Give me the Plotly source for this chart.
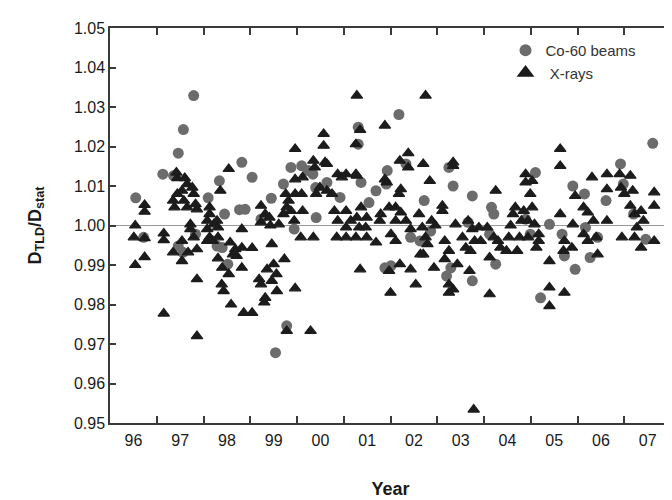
import plotly.graph_objects as go

# Co-60 beams (circles): decimal year, D_TLD/D_stat
co_year = [1996.55, 1996.72, 1997.13, 1997.36, 1997.46, 1997.57, 1997.79, 1997.46, 1997.56, 1997.83,
           1998.10, 1998.34, 1998.45, 1998.29, 1998.40, 1998.52, 1998.82, 1998.77, 1998.89, 1999.04,
           1999.23, 1999.45, 1999.54, 1999.78, 1999.71, 1999.94, 1999.87, 2000.10, 2000.24, 2000.34,
           2000.40, 2000.41, 2000.64, 2000.92, 2001.31, 2001.31, 2001.37, 2001.54, 2001.69, 2001.88,
           2002.01, 2001.93, 2001.91, 2002.18, 2002.33, 2002.43, 2002.72, 2002.63, 2002.86, 2003.25,
           2003.34, 2003.20, 2003.29, 2003.75, 2003.75, 2003.66, 2004.16, 2004.21, 2004.25, 2004.12,
           2005.10, 2004.89, 2004.99, 2005.21, 2005.40, 2005.67, 2005.72, 2005.90, 2005.95, 2006.15,
           2006.17, 2006.27, 2006.43, 2006.61, 2006.92, 2006.98, 2007.20, 2007.46, 2007.61]
co_ratio = [1.0070, 0.9970, 1.0130, 1.0126, 1.0183, 1.0243, 1.0329, 0.9948, 0.9932, 0.9978,
            1.0070, 1.0113, 1.0029, 0.9948, 0.9944, 0.9902, 1.0160, 1.0040, 1.0041, 1.0122,
            1.0016, 1.0069, 0.9678, 0.9746, 1.0105, 0.9991, 1.0147, 1.0151, 1.0139, 1.0130,
            1.0096, 1.0020, 1.0109, 1.0071, 1.0206, 1.0249, 1.0109, 1.0058, 1.0088, 0.9893,
            0.9898, 1.0139, 1.0105, 1.0281, 1.0156, 0.9970, 1.0063, 0.9961, 0.9986, 1.0147,
            1.0100, 0.9872, 0.9893, 1.0075, 0.9860, 1.0008, 1.0046, 1.0029, 0.9902, 0.9978,
            1.0134, 1.0016, 0.9978, 0.9817, 1.0003, 0.9978, 0.9923, 1.0100, 0.9889, 1.0080,
            0.9995, 0.9919, 0.9970, 1.0063, 1.0156, 1.0105, 1.0029, 0.9965, 1.0208]

# X-rays (triangles): decimal year, D_TLD/D_stat
xr_year = [1996.54, 1996.51, 1996.54, 1996.74, 1996.74, 1996.74, 1996.74,
           1997.15, 1997.15, 1997.15, 1997.42, 1997.44, 1997.35, 1997.38, 1997.44, 1997.54, 1997.58,
           1997.60, 1997.65, 1997.76, 1997.79, 1997.83, 1997.86, 1997.65, 1997.72, 1997.72, 1997.79,
           1997.86, 1997.86, 1997.86, 1997.35, 1997.54, 1997.54, 1997.67,
           1998.13, 1998.13, 1998.08, 1998.08, 1998.13, 1998.22, 1998.29, 1998.31, 1998.20, 1998.31,
           1998.08, 1998.36, 1998.54, 1998.31, 1998.40, 1998.39, 1998.43, 1998.54, 1998.59, 1998.57,
           1998.68, 1998.71, 1998.63, 1998.82, 1998.82, 1998.82, 1998.86, 1999.04, 1999.04,
           1999.23, 1999.23, 1999.19, 1999.23, 1999.30, 1999.32, 1999.36, 1999.32, 1999.41, 1999.43,
           1999.46, 1999.50, 1999.46, 1999.61, 1999.73, 1999.56, 1999.57, 1999.78, 1999.76, 1999.82,
           1999.87, 1999.78, 1999.71, 1999.96, 1999.96, 1999.94, 1999.96, 1999.96,
           2000.12, 2000.10, 2000.12, 2000.08, 2000.29, 2000.35, 2000.38, 2000.41, 2000.49, 2000.57,
           2000.57, 2000.60, 2000.64, 2000.35, 2000.64, 2000.75, 2000.80, 2000.87, 2000.96, 2000.85,
           2000.87,
           2001.05, 2001.26, 2001.28, 2001.26, 2001.35, 2001.28, 2001.05, 2001.05, 2001.05, 2001.15,
           2001.28, 2001.33, 2001.26, 2001.35, 2001.47, 2001.49, 2001.37, 2001.49, 2001.69, 2001.77,
           2001.79, 2001.88, 2001.88, 2001.92, 2001.97, 2002.01, 2001.97, 2002.00,
           2002.38, 2002.20, 2002.22, 2002.18, 2002.38, 2002.11, 2002.11, 2002.11, 2002.22, 2002.33,
           2002.43, 2002.43, 2002.54, 2002.20, 2002.75, 2002.70, 2002.84, 2002.61, 2002.68, 2002.75,
           2002.70, 2002.79, 2002.88, 2002.93, 2002.64, 2002.96,
           2003.11, 2003.11, 2003.34, 2003.34, 2003.39, 2003.16, 2003.25, 2003.16, 2003.25, 2003.25,
           2003.34, 2003.43, 2003.54, 2003.61, 2003.66, 2003.75, 2003.80, 2003.71, 2003.69, 2003.78,
           2003.89, 2003.93, 2004.07, 2004.12, 2004.12, 2004.25, 2004.21, 2004.30, 2004.35,
           2004.48, 2004.53, 2004.57, 2004.62, 2004.67, 2004.71, 2004.76, 2004.80, 2004.85, 2004.89,
           2004.89, 2005.03, 2004.99, 2005.03, 2004.94, 2004.94, 2005.08, 2005.17, 2005.17, 2005.12,
           2005.40, 2005.40, 2005.40, 2005.63, 2005.63, 2005.63, 2005.72, 2005.70, 2005.72, 2005.95,
           2005.90, 2005.88,
           2006.13, 2006.22, 2006.13, 2006.22, 2006.31, 2006.34, 2006.40, 2006.43, 2006.63, 2006.63,
           2006.63, 2006.90, 2006.93, 2007.00, 2006.95,
           2007.13, 2007.18, 2007.13, 2007.22, 2007.27, 2007.22, 2007.36, 2007.41, 2007.36, 2007.64,
           2007.64, 2007.64]
xr_ratio = [1.0000, 0.9970, 0.9900, 1.0052, 1.0035, 0.9968, 0.9920,
            0.9980, 0.9963, 0.9777, 1.0134, 1.0120, 1.0063, 1.0046, 1.0080, 1.0088, 1.0063,
            1.0120, 1.0105, 1.0096, 1.0080, 1.0054, 1.0041, 1.0046, 1.0003, 0.9991, 0.9970,
            0.9940, 0.9864, 0.9720, 0.9932, 0.9910, 0.9961, 0.9932,
            1.0046, 1.0029, 1.0012, 0.9991, 0.9970, 1.0003, 1.0012, 0.9995, 0.9961, 0.9970,
            0.9961, 1.0088, 1.0143, 0.9917, 0.9893, 0.9851, 0.9834, 0.9877, 0.9800, 0.9957,
            0.9940, 0.9923, 0.9927, 0.9991, 0.9944, 0.9893, 0.9779, 0.9779, 0.9943,
            1.0050, 1.0008, 0.9864, 0.9851, 0.9805, 0.9817, 0.9889, 1.0029, 1.0020, 1.0000,
            0.9953, 0.9902, 0.9860, 1.0003, 0.9915, 0.9877, 0.9834, 0.9733, 1.0080, 1.0063,
            1.0037, 1.0046, 1.0029, 1.0194, 0.9841, 1.0012, 1.0117, 1.0080,
            1.0122, 1.0080, 1.0037, 0.9970, 0.9733, 1.0164, 1.0147, 1.0080, 1.0096, 1.0232,
            1.0202, 1.0160, 1.0156, 0.9970, 1.0088, 1.0080, 1.0037, 1.0130, 1.0122, 0.9970,
            1.0012,
            1.0130, 1.0130, 1.0329, 1.0206, 1.0242, 1.0126, 1.0037, 0.9995, 0.9970, 1.0012,
            1.0020, 0.9995, 0.9970, 0.9889, 0.9995, 0.9970, 1.0046, 1.0020, 0.9957, 1.0012,
            1.0029, 1.0253, 1.0117, 1.0109, 1.0046, 0.9978, 0.9885, 0.9830,
            1.0183, 1.0164, 1.0092, 1.0080, 1.0147, 1.0046, 1.0012, 0.9961, 1.0033, 1.0012,
            0.9991, 0.9889, 0.9851, 0.9902, 1.0329, 1.0156, 1.0113, 1.0029, 0.9995, 0.9970,
            0.9927, 0.9953, 1.0012, 0.9893, 0.9927, 1.0000,
            1.0050, 1.0037, 1.0160, 1.0151, 1.0003, 0.9961, 0.9936, 0.9915, 0.9851, 0.9830,
            0.9838, 0.9902, 0.9970, 0.9944, 1.0012, 0.9991, 0.9961, 0.9936, 0.9885, 0.9534,
            0.9995, 0.9961, 0.9995, 0.9919, 0.9826, 1.0088, 0.9970, 0.9961, 0.9944,
            0.9936, 0.9970, 1.0000, 1.0029, 1.0046, 0.9936, 0.9970, 1.0012, 1.0037, 1.0130,
            1.0109, 1.0113, 1.0080, 1.0046, 1.0012, 0.9970, 1.0003, 0.9978, 0.9961, 0.9944,
            0.9910, 0.9843, 0.9796, 1.0194, 1.0151, 1.0029, 0.9961, 0.9936, 0.9830, 1.0075,
            1.0003, 0.9944,
            1.0046, 1.0033, 0.9978, 0.9961, 1.0122, 1.0012, 0.9970, 0.9927, 1.0130, 1.0092,
            1.0012, 1.0130, 1.0096, 1.0080, 0.9970,
            1.0126, 1.0088, 1.0050, 1.0029, 0.9995, 0.9970, 0.9944, 1.0012, 1.0037, 1.0084,
            1.0050, 0.9961]

year_labels = ["96", "97", "98", "99", "00", "01", "02", "03", "04", "05", "06", "07"]
year_label_pos = [1996.5 + i for i in range(len(year_labels))]
year_bounds = [1997 + i for i in range(11)]
y_ticks = [0.95 + 0.01 * i for i in range(11)]

FONT = "Liberation Sans, Arial, sans-serif"
AXC = "#3a3a3a"
TXT = "#1a1a1a"

fig = go.Figure()
fig.add_trace(go.Scatter(
    x=co_year, y=co_ratio, mode="markers", name="Co-60 beams",
    marker=dict(symbol="circle", size=11, color="#6c6c6c", line=dict(width=0)),
))
fig.add_trace(go.Scatter(
    x=xr_year, y=xr_ratio, mode="markers", name=" X-rays",
    marker=dict(symbol="triangle-up", size=10, color="#1c1c1c",
                line=dict(width=1.2, color="#1c1c1c")),
))
# invisible helper trace so the label axis is drawn
fig.add_trace(go.Scatter(x=[1996, 2008], y=[1.0, 1.0], xaxis="x2", mode="markers",
                         marker=dict(opacity=0), showlegend=False, hoverinfo="skip"))

fig.add_shape(type="line", xref="paper", yref="y", x0=0, x1=1, y0=1.0, y1=1.0,
              line=dict(color="#9a9a9a", width=1), layer="below")

fig.update_layout(
    width=672, height=500,
    margin=dict(l=102, r=9, t=20, b=85, autoexpand=False),
    paper_bgcolor="white", plot_bgcolor="white",
    font=dict(family=FONT, size=16, color=TXT),
    showlegend=True,
    legend=dict(x=0.705, y=0.985, xanchor="left", yanchor="top",
                bgcolor="rgba(0,0,0,0)", font=dict(size=15, color="#333333"),
                tracegroupgap=0, itemsizing="constant"),
    xaxis=dict(
        range=[1996, 2008], showgrid=False, zeroline=False, automargin=False,
        showline=True, linecolor=AXC, linewidth=1.5, mirror="ticks",
        tickmode="array", tickvals=year_bounds, showticklabels=False,
        ticks="inside", ticklen=7, tickwidth=1.5, tickcolor=AXC,
    ),
    xaxis2=dict(
        range=[1996, 2008], overlaying="x", side="bottom", anchor="y", automargin=False,
        showgrid=False, zeroline=False, showline=False,
        tickmode="array", tickvals=year_label_pos, ticktext=year_labels,
        ticks="", ticklabelstandoff=6,
        title=dict(text="<b>Year</b>", font=dict(size=18, color=TXT), standoff=34),
    ),
    yaxis=dict(
        range=[0.95, 1.05], showgrid=False, zeroline=False, automargin=False,
        showline=True, linecolor=AXC, linewidth=1.5, mirror="ticks",
        tickmode="array", tickvals=y_ticks, tickformat=".2f",
        ticks="inside", ticklen=6, tickwidth=1.5, tickcolor=AXC,
        title=dict(text="<b>D<sub>TLD</sub>/D<sub>stat</sub></b>",
                   font=dict(size=18, color=TXT), standoff=28),
    ),
)

fig.write_html("out.html")
